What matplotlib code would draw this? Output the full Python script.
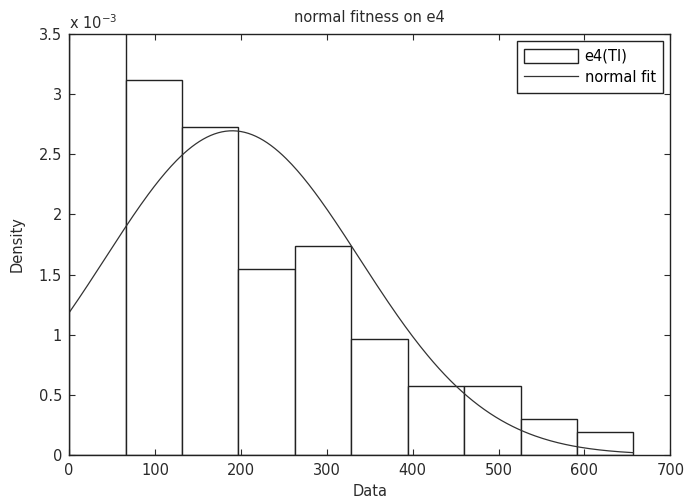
import numpy as np
import matplotlib.pyplot as plt
from matplotlib.ticker import FuncFormatter

plt.rcParams['font.family'] = ['DejaVu Sans']

# histogram of e4 (density, bin edges)
bin_edges = [0, 65.7, 131.4, 197.1, 262.8, 328.5, 394.2, 459.9, 525.6, 591.3, 657]
densities = [3.65e-3, 3.115e-3, 2.724e-3, 1.544e-3, 1.74e-3, 0.964e-3,
             0.576e-3, 0.576e-3, 0.30e-3, 0.189e-3]

# normal fit parameters
fit_mu = 190.0
fit_sigma = 148.0

fs = 10.5
txt = '#2a2a2a'

fig = plt.figure(figsize=(6.84, 5.01), dpi=100)
ax = fig.add_axes([0.101, 0.092, 0.879, 0.840])

widths = np.diff(bin_edges)
bars = ax.bar(bin_edges[:-1], densities, width=widths, align='edge',
              facecolor='white', edgecolor='#222222', linewidth=1.0)

xs = np.linspace(bin_edges[0], bin_edges[-1], 300)
pdf = np.exp(-0.5 * ((xs - fit_mu) / fit_sigma) ** 2) / (fit_sigma * np.sqrt(2 * np.pi))
line, = ax.plot(xs, pdf, color='#333333', linewidth=0.9)

ax.set_xlim(0, 700)
ax.set_ylim(0, 3.5e-3)
ax.set_xticks(np.arange(0, 701, 100))
ax.set_yticks(np.arange(0, 3.51e-3, 0.5e-3))
ax.yaxis.set_major_formatter(FuncFormatter(lambda v, _: f"{v * 1e3:g}"))
ax.tick_params(direction='in', top=True, right=True, length=4, width=0.8,
               labelsize=fs, colors=txt)
ax.tick_params(axis='x', pad=6)
ax.tick_params(axis='y', pad=5)
for s in ax.spines.values():
    s.set_linewidth(1.0)
    s.set_color('#222222')

ax.text(0.0, 1.004, r'x 10$^{-3}$', transform=ax.transAxes, fontsize=fs,
        ha='left', va='bottom', color=txt)

ax.set_title('normal fitness on e4', fontsize=fs, color=txt, pad=9)
ax.set_xlabel('Data', fontsize=fs, color=txt, labelpad=4)
ax.set_ylabel('Density', fontsize=fs, color=txt, labelpad=10)

leg = ax.legend([bars, line], ['e4(TI)', 'normal fit'], loc='upper right',
                fontsize=fs, fancybox=False, framealpha=1, edgecolor='#222222',
                borderaxespad=0.5, handlelength=3.7, handleheight=1.1,
                handletextpad=0.45, borderpad=0.5, labelspacing=0.45)
leg.get_frame().set_linewidth(1.0)

fig.savefig('out.png', dpi=100)
